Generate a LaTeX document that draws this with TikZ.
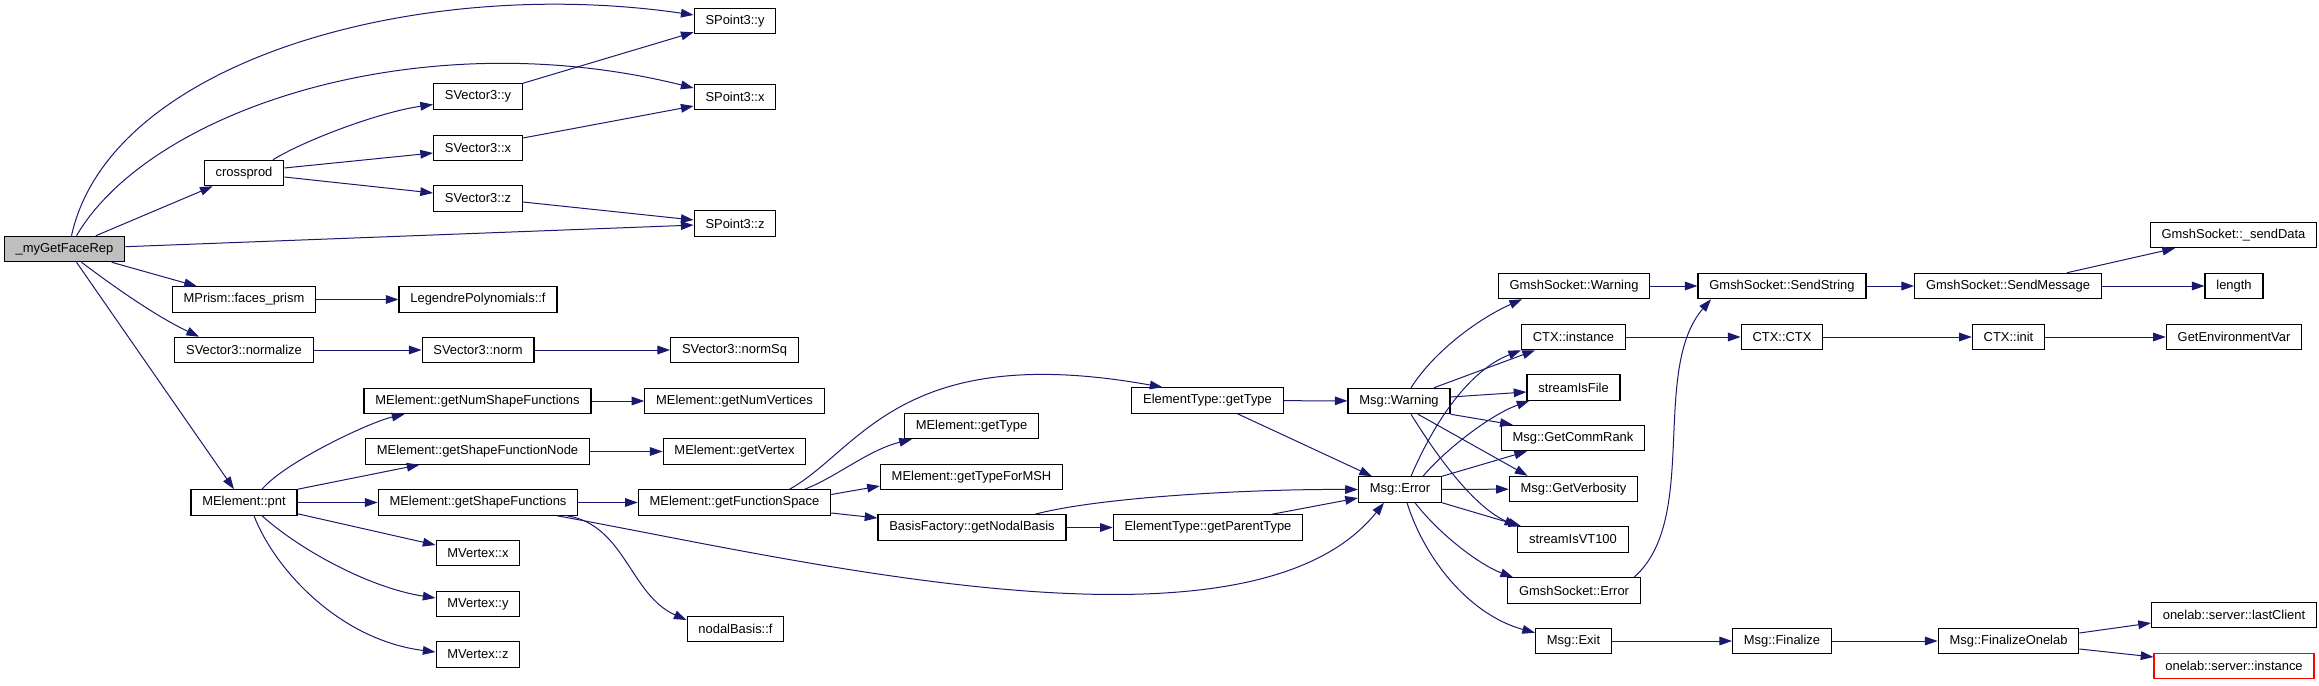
\documentclass[tikz,border=0pt]{standalone}
\usepackage{fontspec}
\setmainfont{Liberation Sans}
\usetikzlibrary{arrows.meta,calc}
\definecolor{midblue}{rgb}{0.098,0.098,0.439}
\definecolor{nodegray}{rgb}{0.75,0.75,0.75}

\begin{document}
\begin{tikzpicture}[x=0.75pt,y=-0.75pt,
    fn/.style={draw=black, line width=0.9pt, fill=white, minimum height=19pt,
      inner xsep=8.5pt, inner ysep=0pt, font=\fontsize{9.7}{11}\selectfont},
    call/.style={draw=midblue, line width=0.75pt, -{Triangle[length=9.5pt,width=6.5pt]}}]
    \useasboundingbox (0,0) rectangle (2319,685);
    % Caller and first level
    \node[fn, fill=nodegray] (face) at (64.5,249) {\_myGetFaceRep};
    \node[fn] (cross) at (244,173) {crossprod};
    \node[fn] (prism) at (244,299.5) {MPrism::faces\_prism};
    \node[fn] (normalize) at (244,350) {SVector3::normalize};
    \node[fn] (pnt) at (244,502.5) {MElement::pnt};
    % Second level
    \node[fn] (vy) at (478,96.5) {SVector3::y};
    \node[fn] (vx) at (478,148) {SVector3::x};
    \node[fn] (vz) at (478,198.5) {SVector3::z};
    \node[fn] (leg) at (478,299.5) {LegendrePolynomials::f};
    \node[fn] (norm) at (478,350) {SVector3::norm};
    \node[fn] (numsf) at (477.5,401) {MElement::getNumShapeFunctions};
    \node[fn] (sfnode) at (477.5,451.5) {MElement::getShapeFunctionNode};
    \node[fn] (sf) at (478,502.5) {MElement::getShapeFunctions};
    \node[fn] (mvx) at (478,553) {MVertex::x};
    \node[fn] (mvy) at (478,604) {MVertex::y};
    \node[fn] (mvz) at (478,654.5) {MVertex::z};
    % Third level
    \node[fn] (py) at (735,21) {SPoint3::y};
    \node[fn] (px) at (735,97) {SPoint3::x};
    \node[fn] (pz) at (735,223.5) {SPoint3::z};
    \node[fn] (normsq) at (734.5,350) {SVector3::normSq};
    \node[fn] (numv) at (734.5,401) {MElement::getNumVertices};
    \node[fn] (vert) at (734.5,451.5) {MElement::getVertex};
    \node[fn] (fspace) at (734.5,502.5) {MElement::getFunctionSpace};
    \node[fn] (nbf) at (735.5,629) {nodalBasis::f};
    % Element types
    \node[fn] (mgettype) at (971.5,426) {MElement::getType};
    \node[fn] (msh) at (971.5,477) {MElement::getTypeForMSH};
    \node[fn] (nodal) at (972,527.5) {BasisFactory::getNodalBasis};
    \node[fn] (gettype) at (1207.5,400.5) {ElementType::getType};
    \node[fn] (parent) at (1208,527.5) {ElementType::getParentType};
    % Messages
    \node[fn] (warn) at (1399,401) {Msg::Warning};
    \node[fn] (err) at (1400,489.5) {Msg::Error};
    \node[fn] (gswarn) at (1574,286) {GmshSocket::Warning};
    \node[fn] (ctxinst) at (1573.5,337) {CTX::instance};
    \node[fn] (sfile) at (1573.5,387.5) {streamIsFile};
    \node[fn] (rank) at (1573,438) {Msg::GetCommRank};
    \node[fn] (verb) at (1573.5,489) {Msg::GetVerbosity};
    \node[fn] (vt) at (1573,539.5) {streamIsVT100};
    \node[fn] (gserr) at (1574,590.5) {GmshSocket::Error};
    \node[fn] (exit) at (1573.5,641) {Msg::Exit};
    % Right part
    \node[fn] (sendstr) at (1782,286) {GmshSocket::SendString};
    \node[fn] (ctxctx) at (1782,337) {CTX::CTX};
    \node[fn] (fin) at (1782,641) {Msg::Finalize};
    \node[fn] (sendmsg) at (2008,286) {GmshSocket::SendMessage};
    \node[fn] (ctxinit) at (2008.5,337) {CTX::init};
    \node[fn] (finone) at (2008.5,641) {Msg::FinalizeOnelab};
    \node[fn] (senddata) at (2233.5,235) {GmshSocket::\_sendData};
    \node[fn] (length) at (2234,286) {length};
    \node[fn] (env) at (2234,337) {GetEnvironmentVar};
    \node[fn] (last) at (2234,615) {onelab::server::lastClient};
    \node[fn, draw=red] (inst) at (2234,666) {onelab::server::instance};

    % Calls of _myGetFaceRep
    \draw[call] ($(face.north)+(7,0)$) .. controls (110,60) and (420,-25) .. ($(py.west)+(0,-6)$);
    \draw[call] ($(face.north)+(12,0)$) .. controls (150,110) and (420,20) .. ($(px.west)+(0,-9)$);
    \draw[call] (face) -- (cross);
    \draw[call] (face) -- (pz);
    \draw[call] (face) -- (prism);
    \draw[call] ($(face.south)+(17,0)$) .. controls (125,295) and (160,318) .. ($(normalize.north)+(-45,0)$);
    \draw[call] ($(face.south)+(12,0)$) -- ($(pnt.north)+(-10,0)$);
    % Vectors and points
    \draw[call] ($(cross.north)+(29,0)$) .. controls (305,140) and (380,112) .. ($(vy.west)+(0,8)$);
    \draw[call] ($(cross.east)+(0,-5)$) -- ($(vx.west)+(0,5)$);
    \draw[call] ($(cross.east)+(0,4)$) -- ($(vz.west)+(0,-5.5)$);
    \draw[call] (vy.north east) -- ($(py.south west)+(0,-2)$);
    \draw[call] ($(vx.east)+(0,-10)$) -- ($(px.west)+(0,9)$);
    \draw[call] ($(vz.east)+(0,3.5)$) -- ($(pz.west)+(0,-3.5)$);
    \draw[call] (prism) -- (leg);
    \draw[call] (normalize) -- (norm);
    \draw[call] (norm) -- (normsq);
    % Calls of MElement::pnt
    \draw[call] ($(pnt.north)+(18,0)$) .. controls (285,462) and (370,422) .. ($(numsf.south)+(-73,0)$);
    \draw[call] (pnt.north east) -- ($(sfnode.south)+(-58,0)$);
    \draw[call] (pnt) -- (sf);
    \draw[call] ($(pnt.south east)+(0,-2)$) -- ($(mvx.west)+(0,-8)$);
    \draw[call] ($(pnt.south)+(18,0)$) .. controls (300,550) and (370,588) .. ($(mvy.west)+(0,-6)$);
    \draw[call] ($(pnt.south)+(10,0)$) .. controls (275,570) and (340,640) .. ($(mvz.west)+(0,-2.5)$);
    \draw[call] (numsf) -- (numv);
    \draw[call] (sfnode) -- (vert);
    \draw[call] (sf) -- (fspace);
    \draw[call] ($(sf.south)+(89,0)$) .. controls (625,525) and (630,595) .. ($(nbf.west)+(0,-9)$);
    \draw[call] ($(sf.south)+(79,0)$) .. controls (800,560) and (1250,670) .. ($(err.south)+(-16,0)$);
    % Function space and element types
    \draw[call] ($(fspace.north)+(55,0)$) .. controls (860,450) and (900,340) .. ($(gettype.north)+(-45,0)$);
    \draw[call] ($(fspace.north)+(70,0)$) .. controls (835,478) and (868,450) .. ($(mgettype.south west)+(8,0)$);
    \draw[call] ($(fspace.east)+(0,-8)$) -- ($(msh.west)+(0,9)$);
    \draw[call] ($(fspace.east)+(0,10.5)$) -- ($(nodal.west)+(0,-9.5)$);
    \draw[call] (nodal) -- (parent);
    \draw[call] ($(nodal.north)+(63,0)$) .. controls (1100,497) and (1250,489) .. (err.west);
    \draw[call] ($(parent.north)+(64,0)$) -- ($(err.west)+(0,8.5)$);
    \draw[call] (gettype) -- (warn);
    \draw[call] ($(gettype.south)+(30,0)$) -- ($(err.north)+(-28,0)$);
    % Calls of Msg::Warning
    \draw[call] ($(warn.north)+(12,0)$) .. controls (1435,350) and (1480,318) .. ($(gswarn.south)+(-52,0)$);
    \draw[call] ($(warn.north)+(35,0)$) -- ($(ctxinst.south)+(-38.5,0)$);
    \draw[call] ($(warn.east)+(0,-4)$) -- ($(sfile.west)+(0,4.5)$);
    \draw[call] (warn.south east) -- ($(rank.north west)+(12,0)$);
    \draw[call] ($(warn.south)+(19,0)$) -- ($(verb.north)+(-46,0)$);
    \draw[call] ($(warn.south)+(12,0)$) .. controls (1430,445) and (1470,505) .. (vt.north west);
    % Calls of Msg::Error
    \draw[call] ($(err.north)+(11,0)$) .. controls (1435,420) and (1470,370) .. (ctxinst.south west);
    \draw[call] ($(err.north)+(23,0)$) .. controls (1445,450) and (1490,415) .. ($(sfile.south west)+(3,0)$);
    \draw[call] (err.north east) -- ($(rank.south)+(-46,0)$);
    \draw[call] (err) -- (verb);
    \draw[call] (err.south east) -- ($(vt.north west)+(4,0)$);
    \draw[call] ($(err.south)+(15,0)$) .. controls (1440,535) and (1480,565) .. ($(gserr.north west)+(6,0)$);
    \draw[call] ($(err.south)+(7,0)$) .. controls (1425,560) and (1470,615) .. ($(exit.north west)+(0,5)$);
    % Sockets, context and finalize chains
    \draw[call] ($(gserr.north east)+(-7,0)$) .. controls (1700,520) and (1650,370) .. ($(sendstr.south)+(-71,0)$);
    \draw[call] (gswarn) -- (sendstr);
    \draw[call] (sendstr) -- (sendmsg);
    \draw[call] ($(sendmsg.north)+(59,0)$) -- ($(senddata.south)+(-58.5,0)$);
    \draw[call] (sendmsg) -- (length);
    \draw[call] (ctxinst) -- (ctxctx);
    \draw[call] (ctxctx) -- (ctxinit);
    \draw[call] (ctxinit) -- (env);
    \draw[call] (exit) -- (fin);
    \draw[call] (fin) -- (finone);
    \draw[call] ($(finone.east)+(0,-8)$) -- ($(last.west)+(0,8)$);
    \draw[call] ($(finone.east)+(0,8)$) -- ($(inst.west)+(0,-9)$);
\end{tikzpicture}
\end{document}
